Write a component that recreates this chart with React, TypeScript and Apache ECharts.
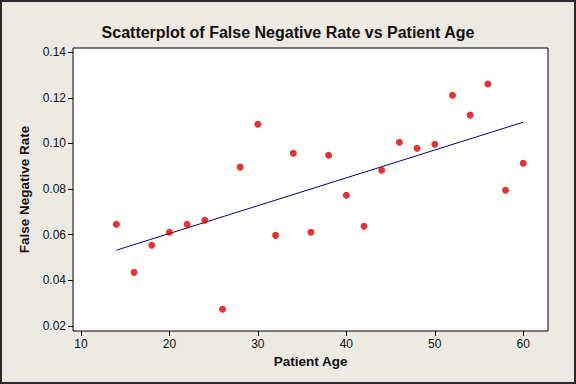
import React, { useEffect, useRef } from "react";
import * as echarts from "echarts";

const ages = [14, 16, 18, 20, 22, 24, 26, 28, 30, 32, 34, 36, 38, 40, 42, 44, 46, 48, 50, 52, 54, 56, 58, 60];
const rates = [0.0646, 0.0435, 0.0554, 0.0611, 0.0646, 0.0663, 0.0273, 0.0896, 0.1084, 0.0597, 0.0957, 0.0611,
  0.0948, 0.0773, 0.0637, 0.0882, 0.1005, 0.0979, 0.0996, 0.1211, 0.1124, 0.1260, 0.0795, 0.0913];
const fitAges = [14, 60];
const fitRates = [0.0532, 0.1093];
const xTicks = [10, 20, 30, 40, 50, 60];
const yTicks = [0.02, 0.04, 0.06, 0.08, 0.1, 0.12, 0.14];

const TITLE = "Scatterplot of False Negative Rate vs Patient Age";
const X_NAME = "Patient Age";
const Y_NAME = "False Negative Rate";

export default function App() {
  const ref = useRef<HTMLDivElement>(null);
  useEffect(() => {
    if (!ref.current) return;
    const chart = echarts.init(ref.current, null, { renderer: "svg" });
    const font = "Liberation Sans";
    chart.setOption({
      animation: false,
      backgroundColor: "#EDEAE2",
      title: {
        text: TITLE,
        left: "center",
        top: 19,
        textStyle: { fontFamily: font, fontWeight: "bold", fontSize: 16, color: "#111" },
      },
      grid: {
        left: 73,
        right: 28,
        top: 48,
        bottom: 53,
        show: true,
        backgroundColor: "#FFFFFF",
        borderColor: "#000",
        borderWidth: 1,
      },
      xAxis: {
        type: "value",
        min: 9.1,
        max: 62.8,
        name: X_NAME,
        nameLocation: "middle",
        nameGap: 23,
        nameTextStyle: { fontFamily: font, fontWeight: "bold", fontSize: 13.5, color: "#111" },
        splitLine: { show: false },
        axisLine: { show: false },
        axisTick: { show: true, inside: false, length: 5, lineStyle: { color: "#000" }, customValues: xTicks },
        axisLabel: { fontFamily: font, fontSize: 12, color: "#111", margin: 7, customValues: xTicks },
      },
      yAxis: {
        type: "value",
        min: 0.0178,
        max: 0.1418,
        name: Y_NAME,
        nameLocation: "middle",
        nameGap: 41,
        nameTextStyle: { fontFamily: font, fontWeight: "bold", fontSize: 13.5, color: "#111" },
        splitLine: { show: false },
        axisLine: { show: false },
        axisTick: { show: true, inside: false, length: 5, lineStyle: { color: "#000" }, customValues: yTicks },
        axisLabel: {
          fontFamily: font,
          fontSize: 12,
          color: "#111",
          margin: 7,
          customValues: yTicks,
          formatter: (v: number) => v.toFixed(2),
        },
      },
      series: [
        {
          type: "line",
          data: fitAges.map((a, i) => [a, fitRates[i]]),
          showSymbol: false,
          symbol: "none",
          lineStyle: { color: "#00007F", width: 1 },
          z: 2,
        },
        {
          type: "scatter",
          data: ages.map((a, i) => [a, rates[i]]),
          symbol: "circle",
          symbolSize: 7,
          itemStyle: { color: "#DD0000" },
          z: 3,
        },
      ],
      graphic: [
        {
          type: "rect",
          shape: { x: 1, y: 1, width: 574, height: 382 },
          style: { fill: "none", stroke: "#2A2A2A", lineWidth: 2 },
          silent: true,
        },
      ],
    });
    return () => chart.dispose();
  }, []);
  return (
    <div
      ref={ref}
      style={{ position: "absolute", left: 0, top: 0, width: 576, height: 384 }}
    />
  );
}
